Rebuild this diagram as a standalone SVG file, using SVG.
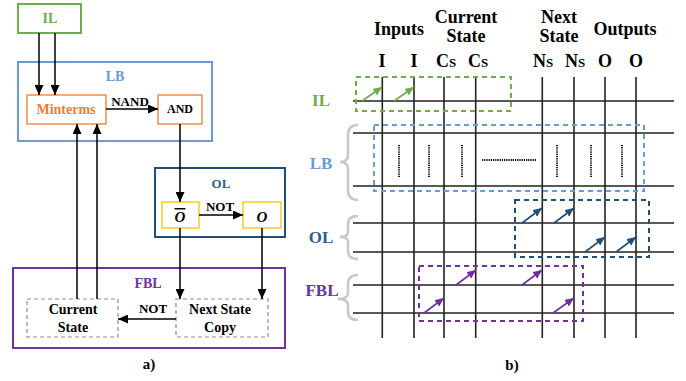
<svg xmlns="http://www.w3.org/2000/svg" width="686" height="381" viewBox="0 0 686 381">
<style>
text{font-family:"Liberation Serif","Times New Roman",serif;font-weight:bold;text-anchor:middle}
.k{stroke:#000;stroke-width:1.5;fill:none}
.g{stroke:#222;stroke-width:1.6;fill:none}
.dash{fill:none;stroke-width:2;stroke-dasharray:5,4}
.br{fill:none;stroke:#c8c8c8;stroke-width:2.5}
</style>
<defs>
<marker id="ab" markerUnits="userSpaceOnUse" markerWidth="10" markerHeight="9" refX="10" refY="4.5" orient="auto"><path d="M0,0 L10,4.5 L0,9 z" fill="#000"/></marker>
<marker id="ag" markerUnits="userSpaceOnUse" markerWidth="9" markerHeight="8" refX="9" refY="4" orient="auto"><path d="M0,0 L9,4 L0,8 z" fill="#70ad47"/></marker>
<marker id="ad" markerUnits="userSpaceOnUse" markerWidth="9" markerHeight="8" refX="9" refY="4" orient="auto"><path d="M0,0 L9,4 L0,8 z" fill="#1f4e79"/></marker>
<marker id="ap" markerUnits="userSpaceOnUse" markerWidth="9" markerHeight="8" refX="9" refY="4" orient="auto"><path d="M0,0 L9,4 L0,8 z" fill="#7030a0"/></marker>
</defs>
<rect width="686" height="381" fill="#fff"/>

<!-- Left panel a) -->
<g id="IL-box"><rect x="18" y="4" width="63" height="29" fill="none" stroke="#70ad47" stroke-width="2"/><text x="50" y="23" font-size="14" fill="#70ad47">IL</text></g>
<g id="LB-box"><rect x="18" y="62" width="194" height="79" fill="none" stroke="#6c9bd2" stroke-width="2"/><text x="115" y="81" font-size="14" fill="#6c9bd2">LB</text></g>
<g id="Minterms"><rect x="27" y="95" width="79" height="29" fill="none" stroke="#ed7d31" stroke-width="1.3"/><text x="66" y="114" font-size="14" fill="#ed7d31">Minterms</text></g>
<g id="AND"><rect x="158" y="95" width="44" height="29" fill="none" stroke="#ed7d31" stroke-width="1.3"/><text x="180" y="113" font-size="12" fill="#000">AND</text></g>
<g id="OL-box"><rect x="155" y="168" width="130" height="69" fill="none" stroke="#1f4e79" stroke-width="2"/><text x="221" y="188" font-size="13" fill="#2e5e8c">OL</text></g>
<g id="Obar"><rect x="162" y="202" width="37" height="26" fill="none" stroke="#ffc000" stroke-width="1.3"/><text x="180" y="222" font-size="15" font-style="italic" text-decoration="overline">O</text></g>
<g id="O"><rect x="243" y="202" width="38" height="26" fill="none" stroke="#ffc000" stroke-width="1.3"/><text x="262" y="222" font-size="15" font-style="italic">O</text></g>
<g id="FBL-box"><rect x="13" y="268" width="272" height="80" fill="none" stroke="#7030a0" stroke-width="2"/><text x="148" y="288" font-size="14" fill="#7030a0">FBL</text></g>
<g id="CurrentState"><rect x="27" y="299" width="91" height="38" fill="none" stroke="#8c8c8c" stroke-width="1.2" stroke-dasharray="4,3"/><text x="73" y="314" font-size="14">Current</text><text x="73" y="332" font-size="14">State</text></g>
<g id="NextStateCopy"><rect x="176" y="299" width="92" height="38" fill="none" stroke="#8c8c8c" stroke-width="1.2" stroke-dasharray="4,3"/><text x="220" y="314" font-size="14">Next State</text><text x="220" y="332" font-size="14">Copy</text></g>

<g id="connectors-a">
<line class="k" x1="39" y1="33" x2="39" y2="95" marker-end="url(#ab)"/>
<line class="k" x1="55" y1="33" x2="55" y2="95" marker-end="url(#ab)"/>
<line class="k" x1="106" y1="109" x2="158" y2="109" marker-end="url(#ab)"/>
<line class="k" x1="77" y1="299" x2="77" y2="124" marker-end="url(#ab)"/>
<line class="k" x1="97" y1="299" x2="97" y2="124" marker-end="url(#ab)"/>
<line class="k" x1="180" y1="124" x2="180" y2="202" marker-end="url(#ab)"/>
<line class="k" x1="199" y1="215" x2="243" y2="215" marker-end="url(#ab)"/>
<line class="k" x1="180" y1="228" x2="180" y2="299" marker-end="url(#ab)"/>
<line class="k" x1="262" y1="228" x2="262" y2="299" marker-end="url(#ab)"/>
<line class="k" x1="176" y1="319" x2="118" y2="319" marker-end="url(#ab)"/>
<text x="130" y="106" font-size="13">NAND</text>
<text x="220" y="211" font-size="13">NOT</text>
<text x="153" y="313" font-size="13">NOT</text>
</g>
<text x="149" y="369" font-size="15">a)</text>

<!-- Right panel b) -->
<g id="headers" font-size="18">
<text x="399" y="35">Inputs</text>
<text x="466" y="23">Current</text><text x="466" y="42">State</text>
<text x="559" y="23">Next</text><text x="559" y="42">State</text>
<text x="625" y="35">Outputs</text>
</g>
<g id="col-labels" font-size="18">
<text x="382" y="67">I</text>
<text x="414" y="67">I</text>
<text x="446" y="67">C<tspan font-size="13">S</tspan></text>
<text x="478" y="67">C<tspan font-size="13">S</tspan></text>
<text x="543" y="67">N<tspan font-size="13">S</tspan></text>
<text x="575" y="67">N<tspan font-size="13">S</tspan></text>
<text x="605" y="67">O</text>
<text x="636" y="67">O</text>
</g>
<g id="grid">
<path class="g" d="M382.3,77V338M414,77V338M444,77V338M475.7,77V338M542.3,77V338M574,77V338M605,77V338M636,77V338"/>
<path class="g" d="M353,101H674M353,133H674M353,186H674M353,223H674M353,252H674M353,285H674M353,313H674"/>
</g>
<g id="LB-dots" stroke="#000" stroke-width="1.8" stroke-dasharray="1.2,1">
<path d="M399,145V178M429,145V178M462,145V178M557,145V178M591,145V178M622,145V178M482,160H537"/>
</g>
<g id="IL-row">
<rect class="dash" x="356" y="77" width="155" height="34" stroke="#70ad47"/>
<text x="321" y="106" font-size="17" fill="#70ad47">IL</text>
<line x1="362" y1="101" x2="382" y2="87" stroke="#70ad47" stroke-width="1.6" marker-end="url(#ag)"/>
<line x1="394" y1="101" x2="414" y2="87" stroke="#70ad47" stroke-width="1.6" marker-end="url(#ag)"/>
</g>
<g id="LB-row">
<rect class="dash" x="374" y="125" width="270" height="66" stroke="#6c9bd2"/>
<path class="br" d="M358,125 Q348,125 348,135 V155 Q348,162 340,162 Q348,162 348,169 V190 Q348,200 358,200"/>
<text x="321" y="169" font-size="17" fill="#6c9bd2">LB</text>
</g>
<g id="OL-row">
<rect class="dash" x="515" y="200" width="134" height="57" stroke="#1f4e79"/>
<path class="br" d="M358,216 Q348,216 348,224 V232 Q348,237 340,237 Q348,237 348,242 V251 Q348,259 358,259"/>
<text x="321" y="243" font-size="17" fill="#2e5e8c">OL</text>
<line x1="522" y1="223" x2="542" y2="208" stroke="#1f4e79" stroke-width="1.6" marker-end="url(#ad)"/>
<line x1="554" y1="223" x2="574" y2="208" stroke="#1f4e79" stroke-width="1.6" marker-end="url(#ad)"/>
<line x1="585" y1="252" x2="605" y2="237" stroke="#1f4e79" stroke-width="1.6" marker-end="url(#ad)"/>
<line x1="616" y1="252" x2="636" y2="237" stroke="#1f4e79" stroke-width="1.6" marker-end="url(#ad)"/>
</g>
<g id="FBL-row">
<rect class="dash" x="419" y="266" width="164" height="55" stroke="#7030a0"/>
<path class="br" d="M358,275 Q348,275 348,284 V293 Q348,299 338,299 Q348,299 348,305 V312 Q348,320 358,320"/>
<text x="322" y="296" font-size="17" fill="#7030a0">FBL</text>
<line x1="456" y1="285" x2="476" y2="270" stroke="#7030a0" stroke-width="1.6" marker-end="url(#ap)"/>
<line x1="522" y1="285" x2="542" y2="270" stroke="#7030a0" stroke-width="1.6" marker-end="url(#ap)"/>
<line x1="424" y1="313" x2="444" y2="298" stroke="#7030a0" stroke-width="1.6" marker-end="url(#ap)"/>
<line x1="553" y1="313" x2="574" y2="298" stroke="#7030a0" stroke-width="1.6" marker-end="url(#ap)"/>
</g>
<text x="512" y="370" font-size="15">b)</text>
</svg>
